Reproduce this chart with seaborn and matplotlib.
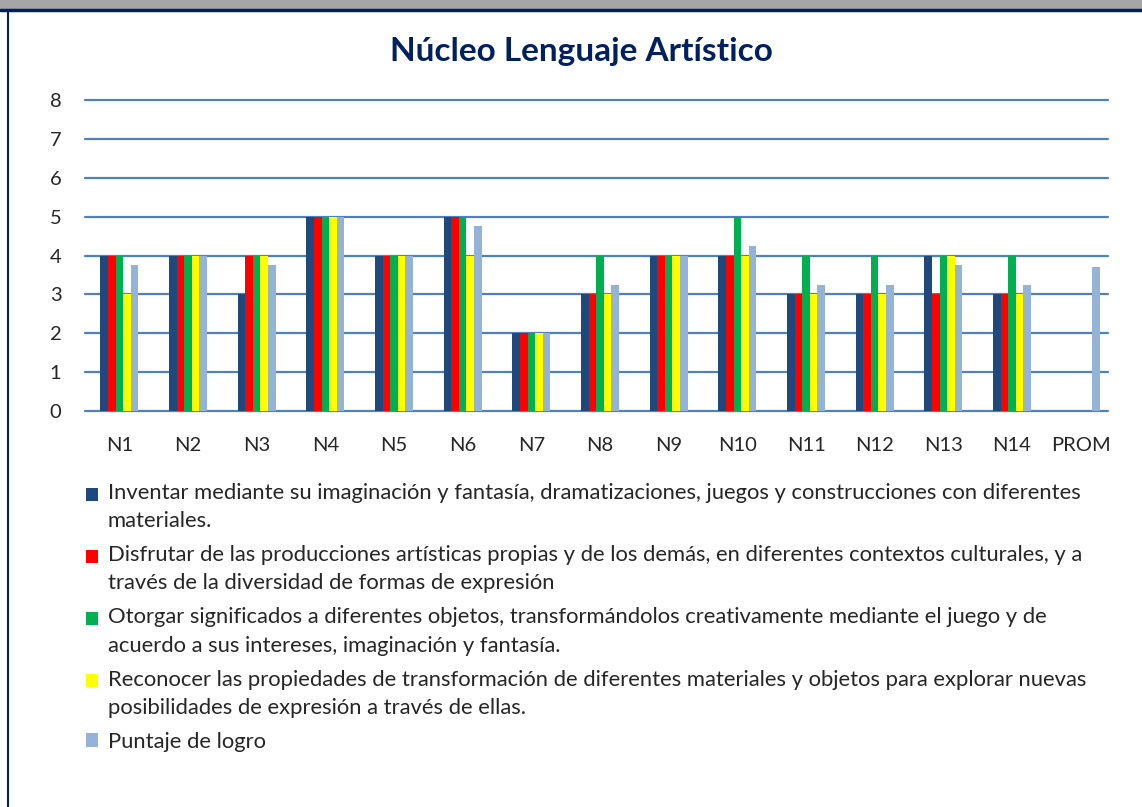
import numpy as np
import pandas as pd
import matplotlib
matplotlib.use("Agg")
import matplotlib.pyplot as plt
import seaborn as sns
from matplotlib.patches import Rectangle
from matplotlib.lines import Line2D
from matplotlib.legend_handler import HandlerPatch

# categories and series
groups = ["N1", "N2", "N3", "N4", "N5", "N6", "N7", "N8", "N9", "N10",
          "N11", "N12", "N13", "N14", "PROM"]
inventar = [4, 4, 3, 5, 4, 5, 2, 3, 4, 4, 3, 3, 4, 3, 0]
disfrutar = [4, 4, 4, 5, 4, 5, 2, 3, 4, 4, 3, 3, 3, 3, 0]
otorgar = [4, 4, 4, 5, 4, 5, 2, 4, 4, 5, 4, 4, 4, 4, 0]
reconocer = [3, 4, 4, 5, 4, 4, 2, 3, 4, 4, 3, 3, 4, 3, 0]
puntaje = [3.75, 4, 3.75, 5, 4, 4.75, 2, 3.25, 4, 4.25, 3.25, 3.25, 3.75, 3.25, 3.7]

series_names = [
    "Inventar mediante su imaginación y fantasía, dramatizaciones, juegos y construcciones con diferentes\nmateriales.",
    "Disfrutar de las producciones artísticas propias y de los demás, en diferentes contextos culturales, y a\ntravés de la diversidad de formas de expresión",
    "Otorgar significados a diferentes objetos, transformándolos creativamente mediante el juego y de\nacuerdo a sus intereses, imaginación y fantasía.",
    "Reconocer las propiedades de transformación de diferentes materiales y objetos para explorar nuevas\nposibilidades de expresión a través de ellas.",
    "Puntaje de logro",
]
colors = ["#1F497D", "#FF0000", "#00B050", "#FFFF00", "#95B3D7"]
yticks = [0, 1, 2, 3, 4, 5, 6, 7, 8]

rows = []
for name, vals in zip(series_names, [inventar, disfrutar, otorgar, reconocer, puntaje]):
    for g, v in zip(groups, vals):
        rows.append({"grupo": g, "serie": name, "valor": v})
df = pd.DataFrame(rows)

sns.set_style("white")
plt.rcParams["font.family"] = ["Lato", "DejaVu Sans"]

fig = plt.figure(figsize=(11.42, 8.07), dpi=100)
ax = fig.add_axes([85 / 1142, 0.4907, 1030 / 1142, 0.3853])

sns.barplot(data=df, x="grupo", y="valor", hue="serie", order=groups,
            hue_order=series_names, palette=colors, width=0.55, gap=0,
            saturation=1, ax=ax, legend=False)

for p in ax.patches:
    p.set_edgecolor("none")

ax.set_ylim(0, 8)
ax.set_xlim(-0.5, len(groups) - 0.5)
ax.set_yticks(yticks)
for y in yticks:
    ax.axhline(y, xmax=0.993, color="#4F81BD", lw=1.6, zorder=0, clip_on=False)
for s in ax.spines.values():
    s.set_visible(False)
ax.set_xlabel("")
ax.set_ylabel("")
ax.tick_params(axis="x", length=0, pad=19, labelsize=14.5)
ax.tick_params(axis="y", length=0, pad=17, labelsize=14.5)

# legend: square sits on the first line of a wrapped label
legend_fs = 15.8
line_step = legend_fs * 1.27 * 0.47


def square_on_first_line(n_lines):
    def make(legend, orig_handle, xdescent, ydescent, width, height, fontsize):
        return Rectangle((-xdescent, -ydescent + (n_lines - 1) * line_step), width, height)
    return make


handles = [Rectangle((0, 0), 1, 1, facecolor=c, edgecolor="none") for c in colors]
hmap = {h: HandlerPatch(patch_func=square_on_first_line(lab.count("\n") + 1))
        for h, lab in zip(handles, series_names)}
leg = fig.legend(handles, series_names, loc="upper left", handler_map=hmap,
                 bbox_to_anchor=(86 / 1142, 1 - 483 / 807), frameon=False,
                 fontsize=legend_fs, handlelength=0.55, handleheight=0.55,
                 handletextpad=0.45, labelspacing=0.64, borderaxespad=0,
                 borderpad=0)
for t in leg.get_texts():
    t.set_linespacing(1.51)

fig.text(581 / 1142, 1 - 52 / 807, "Núcleo Lenguaje Artístico", ha="center",
         va="center", fontsize=24, fontweight="bold", color="#002060")

# frame bits around the chart
fig.patches.append(Rectangle((0, 1 - 9 / 807), 1, 9 / 807, transform=fig.transFigure,
                             facecolor="#A6A6A6", edgecolor="none"))
fig.lines.append(Line2D([0, 1], [1 - 10 / 807, 1 - 10 / 807], transform=fig.transFigure,
                        color="#002060", lw=2.5))
fig.lines.append(Line2D([8 / 1142, 8 / 1142], [0, 1 - 10 / 807], transform=fig.transFigure,
                        color="#002060", lw=1.5))

fig.savefig("out.png", dpi=100)
